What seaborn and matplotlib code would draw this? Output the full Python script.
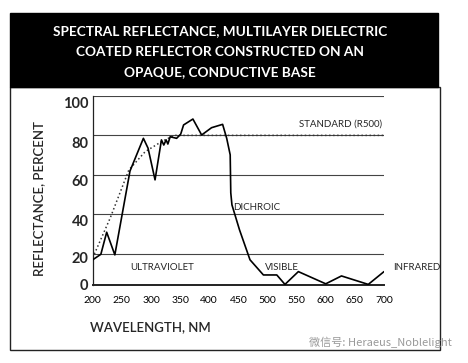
import numpy as np
import pandas as pd
import matplotlib
matplotlib.use("Agg")
import matplotlib.pyplot as plt
import matplotlib.transforms as mtransforms
from matplotlib.patches import Rectangle
import seaborn as sns

# measured dichroic reflector curve
wavelength = [200, 214, 224, 238, 264, 287, 295, 307, 318, 322, 326, 329, 333,
              344, 351, 356, 372, 387, 404, 423, 430, 436, 437, 439, 452, 470,
              493, 516, 530, 553, 600, 627, 673, 700]
reflectance = [16.8, 19.6, 30.8, 19.3, 61.9, 78.5, 73.5, 57.4, 77.7, 75.1, 77.7,
               75.6, 79.3, 78.5, 80.6, 85.3, 88.3, 80.2, 83.9, 85.6, 78.5, 70.1,
               50.8, 44.7, 32.0, 16.8, 9.1, 9.1, 4.3, 10.8, 4.6, 8.6, 4.3, 10.8]

# standard (R500) reference curve
std_wavelength = [200, 230, 262, 290, 318, 340, 700]
std_reflectance = [17.8, 38, 62.4, 71.7, 76.8, 80, 80]

x_ticks = [200, 250, 300, 350, 400, 450, 500, 550, 600, 650, 700]
# the printed chart puts its "0" label on the base line, a little above true zero
y_ticks = [4, 20, 40, 60, 80, 100]
y_labels = ["0", "20", "40", "60", "80", "100"]
y_label_drop = [0, 4, 6, 6, 7, 7]   # px the printed labels sit below their gridline

W, H = 468, 363
FONT = ['Lato', 'DejaVu Sans']


def fx(x):
    return x / W


def fy(y):
    return 1 - y / H


sns.set_style("white")
plt.rcParams['font.family'] = FONT

fig = plt.figure(figsize=(W / 100, H / 100), dpi=100)

# outer frame and title box
fig.patches.append(Rectangle((fx(10), fy(350)), fx(430), (350 - 87) / H,
                             transform=fig.transFigure, fill=False,
                             edgecolor='#222222', linewidth=1.0))
fig.patches.append(Rectangle((fx(10), fy(87)), fx(428), (87 - 13) / H,
                             transform=fig.transFigure, facecolor='black',
                             edgecolor='black'))
title_lines = ["SPECTRAL REFLECTANCE, MULTILAYER DIELECTRIC",
               "COATED REFLECTOR CONSTRUCTED ON AN",
               "OPAQUE, CONDUCTIVE BASE"]
for i, line in enumerate(title_lines):
    fig.text(fx(220), fy(31 + 21 * i), line, color='white', fontsize=9.8,
             fontweight='bold', ha='center', va='center')

ax = fig.add_axes([fx(92.7), fy(285), fx(384 - 92.7), (285 - 96) / H])

curve = pd.DataFrame({"wavelength": wavelength, "reflectance": reflectance})
std = pd.DataFrame({"wavelength": std_wavelength, "reflectance": std_reflectance})

for yv in y_ticks[1:]:
    ax.axhline(yv, color='#444444', linewidth=0.8, zorder=1)
sns.lineplot(data=std, x="wavelength", y="reflectance", ax=ax, color='#333333',
             linestyle=':', linewidth=1.1, zorder=2)
sns.lineplot(data=curve, x="wavelength", y="reflectance", ax=ax, color='black',
             linewidth=1.2, zorder=3)

ax.set_xlim(200, 700)
ax.set_ylim(4, 100)
ax.set_xticks(x_ticks)
ax.set_yticks(y_ticks)
ax.set_yticklabels(y_labels)
ax.set_xlabel("")
ax.set_ylabel("")
for s in ['top', 'right']:
    ax.spines[s].set_visible(False)
ax.spines['left'].set_color('#222222')
ax.spines['left'].set_linewidth(0.9)
ax.spines['bottom'].set_color('#222222')
ax.spines['bottom'].set_linewidth(1.4)
ax.tick_params(axis='x', direction='out', length=3, width=0.8, pad=5,
               labelsize=7.5, colors='black')
ax.tick_params(axis='y', length=0, pad=3, labelsize=10.5)
for lab, drop in zip(ax.get_yticklabels(), y_label_drop):
    lab.set_fontweight('bold')
    lab.set_transform(lab.get_transform() +
                      mtransforms.ScaledTranslation(0, -drop / 100, fig.dpi_scale_trans))

# region labels
fig.text(fx(382), fy(124), "STANDARD (R500)", fontsize=7, ha='right', va='center')
fig.text(fx(233), fy(208), "DICHROIC", fontsize=7, ha='left', va='center')
fig.text(fx(130), fy(268), "ULTRAVIOLET", fontsize=7, ha='left', va='center')
fig.text(fx(265), fy(267), "VISIBLE", fontsize=7, ha='left', va='center')
fig.text(fx(393), fy(268), "INFRARED", fontsize=7, ha='left', va='center')

# axis titles
fig.text(fx(39), fy(198), "REFLECTANCE, PERCENT", fontsize=9.5, rotation=90,
         ha='center', va='center', fontweight='semibold')
fig.text(fx(90), fy(327), "WAVELENGTH, NM", fontsize=9.5, ha='left',
         va='center', fontweight='semibold')

# watermark
fig.text(fx(452), fy(342), "微信号: Heraeus_Noblelight", fontsize=8,
         color='#9a9a9a', ha='right', va='center',
         family=['Noto Sans CJK SC', 'DejaVu Sans'])

fig.savefig("out.png", dpi=100)
